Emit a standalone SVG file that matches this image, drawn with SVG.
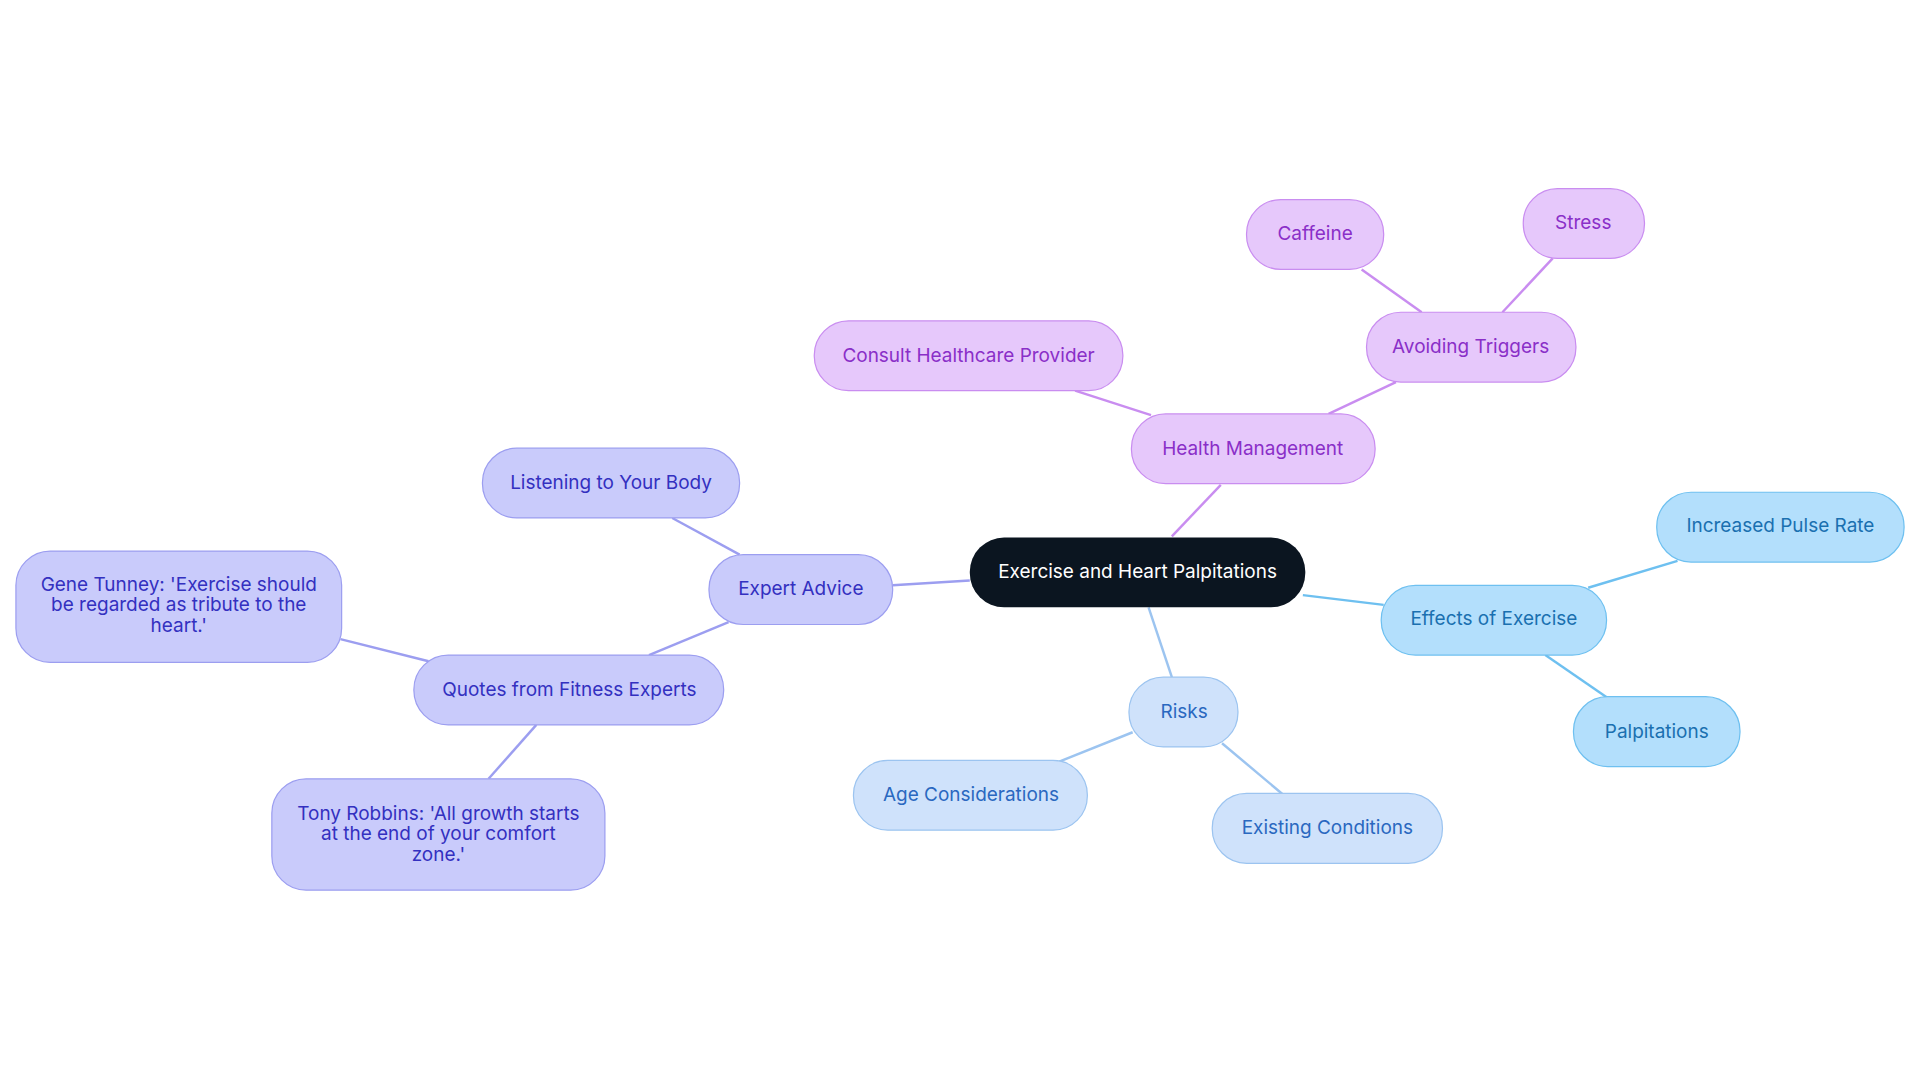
<svg xmlns="http://www.w3.org/2000/svg" width="1920" height="1083" viewBox="0 0 1920 1083">
<style>
text{font-family:Inter,"Noto Sans",sans-serif;font-size:15.5px;text-anchor:middle;dominant-baseline:central}
.p rect{fill:#e6c8fb;stroke:#c98df0}.p text{fill:#8a2fc8}
.b rect{fill:#b3dffc;stroke:#6ec0f0}.b text{fill:#1a70b0}
.r rect{fill:#cfe2fb;stroke:#9cc4f0}.r text{fill:#2a68c0}
.e rect{fill:#c9cbfb;stroke:#9c9ef0}.e text{fill:#3330c0}
rect{stroke-width:1}
#edges line{stroke-width:2}
</style>
<rect width="1920" height="1083" fill="#fff"/>
<g transform="scale(1.22449)">
<g id="edges">
<line x1="957" y1="438" x2="997" y2="396" stroke="#c98df0"/>
<line x1="940" y1="339" x2="878" y2="319" stroke="#c98df0"/>
<line x1="1085" y1="338" x2="1140" y2="312" stroke="#c98df0"/>
<line x1="1161" y1="255" x2="1112" y2="220" stroke="#c98df0"/>
<line x1="1227" y1="255" x2="1268" y2="211" stroke="#c98df0"/>
<line x1="1064" y1="486" x2="1130" y2="494" stroke="#6ec0f0"/>
<line x1="1297" y1="480" x2="1370" y2="458" stroke="#6ec0f0"/>
<line x1="1262" y1="535" x2="1313" y2="570" stroke="#6ec0f0"/>
<line x1="938" y1="496" x2="957" y2="553" stroke="#9cc4f0"/>
<line x1="925" y1="598" x2="865" y2="622" stroke="#9cc4f0"/>
<line x1="998" y1="607" x2="1048" y2="649" stroke="#9cc4f0"/>
<line x1="792" y1="474" x2="729" y2="478" stroke="#9c9ef0"/>
<line x1="604" y1="453" x2="549" y2="423" stroke="#9c9ef0"/>
<line x1="595" y1="508" x2="530" y2="535" stroke="#9c9ef0"/>
<line x1="350" y1="540" x2="278" y2="522" stroke="#9c9ef0"/>
<line x1="438" y1="592" x2="399" y2="636" stroke="#9c9ef0"/>
</g>
<g id="center"><rect x="792" y="439" width="274" height="57" rx="28" fill="#0b1520"/><text x="929" y="467" fill="#fff">Exercise and Heart Palpitations</text></g>
<g id="health" class="p"><rect x="924" y="338" width="199" height="57" rx="28"/><text x="1023" y="366">Health Management</text></g>
<g id="consult" class="p"><rect x="665" y="262" width="252" height="57" rx="28"/><text x="791" y="290">Consult Healthcare Provider</text></g>
<g id="avoid" class="p"><rect x="1116" y="255" width="171" height="57" rx="28"/><text x="1201" y="283">Avoiding Triggers</text></g>
<g id="caffeine" class="p"><rect x="1018" y="163" width="112" height="57" rx="28"/><text x="1074" y="191">Caffeine</text></g>
<g id="stress" class="p"><rect x="1244" y="154" width="99" height="57" rx="28"/><text x="1293" y="182">Stress</text></g>
<g id="effects" class="b"><rect x="1128" y="478" width="184" height="57" rx="28"/><text x="1220" y="505">Effects of Exercise</text></g>
<g id="pulse" class="b"><rect x="1353" y="402" width="202" height="57" rx="28"/><text x="1454" y="429">Increased Pulse Rate</text></g>
<g id="palp" class="b"><rect x="1285" y="569" width="136" height="57" rx="28"/><text x="1353" y="597">Palpitations</text></g>
<g id="risks" class="r"><rect x="922" y="553" width="89" height="57" rx="28"/><text x="967" y="581">Risks</text></g>
<g id="age" class="r"><rect x="697" y="621" width="191" height="57" rx="28"/><text x="793" y="649">Age Considerations</text></g>
<g id="existing" class="r"><rect x="990" y="648" width="188" height="57" rx="28"/><text x="1084" y="676">Existing Conditions</text></g>
<g id="expert" class="e"><rect x="579" y="453" width="150" height="57" rx="28"/><text x="654" y="481">Expert Advice</text></g>
<g id="listen" class="e"><rect x="394" y="366" width="210" height="57" rx="28"/><text x="499" y="394">Listening to Your Body</text></g>
<g id="quotes" class="e"><rect x="338" y="535" width="253" height="57" rx="28"/><text x="465" y="563">Quotes from Fitness Experts</text></g>
<g id="gene" class="e"><rect x="13" y="450" width="266" height="91" rx="28"/><text x="146" y="477">Gene Tunney: 'Exercise should</text><text x="146" y="494">be regarded as tribute to the</text><text x="146" y="511">heart.'</text></g>
<g id="tony" class="e"><rect x="222" y="636" width="272" height="91" rx="28"/><text x="358" y="664">Tony Robbins: 'All growth starts</text><text x="358" y="681">at the end of your comfort</text><text x="358" y="698">zone.'</text></g>
</g>
</svg>
